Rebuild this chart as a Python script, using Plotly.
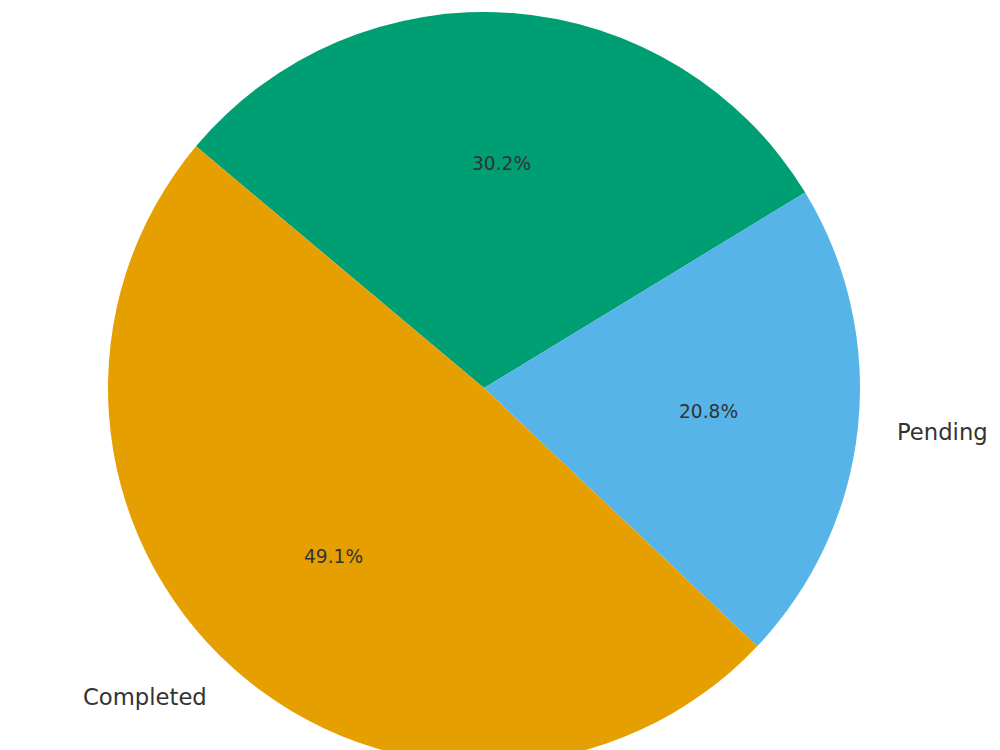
import math
import plotly.graph_objects as go

# Data (counterclockwise order from start angle, as in the reference)
categories = ["Completed", "Pending", "In Progress"]
counts = [52, 22, 32]
colors = ["#E69F00", "#56B4E9", "#009E73"]

W, H = 1000, 776
cx, cy, R = 484, 388, 376  # pixel centre / radius of the pie
start_angle = 140  # degrees, math convention, counterclockwise

fig = go.Figure()
fig.add_trace(go.Pie(
    labels=categories[::-1],
    values=counts[::-1],
    marker=dict(colors=colors[::-1], line=dict(width=0)),
    sort=False,
    direction="clockwise",
    rotation=90 - start_angle,
    textinfo="none",
    hoverinfo="label+percent",
    domain=dict(x=[(cx - R) / W, (cx + R) / W],
                y=[(H - (cy + R)) / H, (H - (cy - R)) / H]),
    showlegend=False,
))

total = sum(counts)
annotations = []
a = start_angle
for name, v in zip(categories, counts):
    span = 360 * v / total
    mid = math.radians(a + span / 2)
    a += span
    # percentage label at 0.6 R
    px = cx + 0.6 * R * math.cos(mid)
    py = cy - 0.6 * R * math.sin(mid)
    annotations.append(dict(x=px / W, y=1 - py / H, xref="paper", yref="paper",
                            text=f"{100 * v / total:.1f}%", showarrow=False,
                            xanchor="center", yanchor="middle",
                            font=dict(family="DejaVu Sans", size=18.6, color="#333333")))
    # category label at 1.1 R
    lx = cx + 1.1 * R * math.cos(mid)
    ly = cy - 1.1 * R * math.sin(mid)
    if 0 <= ly <= 750:
        annotations.append(dict(x=lx / W, y=1 - ly / H, xref="paper", yref="paper",
                                text=name, showarrow=False,
                                xanchor="right" if math.cos(mid) < 0 else "left",
                                yanchor="middle",
                                font=dict(family="DejaVu Sans", size=22.7, color="#333333")))

fig.update_layout(
    width=W, height=H,
    margin=dict(l=0, r=0, t=0, b=0),
    paper_bgcolor="white",
    plot_bgcolor="white",
    annotations=annotations,
)

fig.write_html("out.html",
               post_script="document.documentElement.style.overflow='hidden';document.body.style.overflow='hidden';")
